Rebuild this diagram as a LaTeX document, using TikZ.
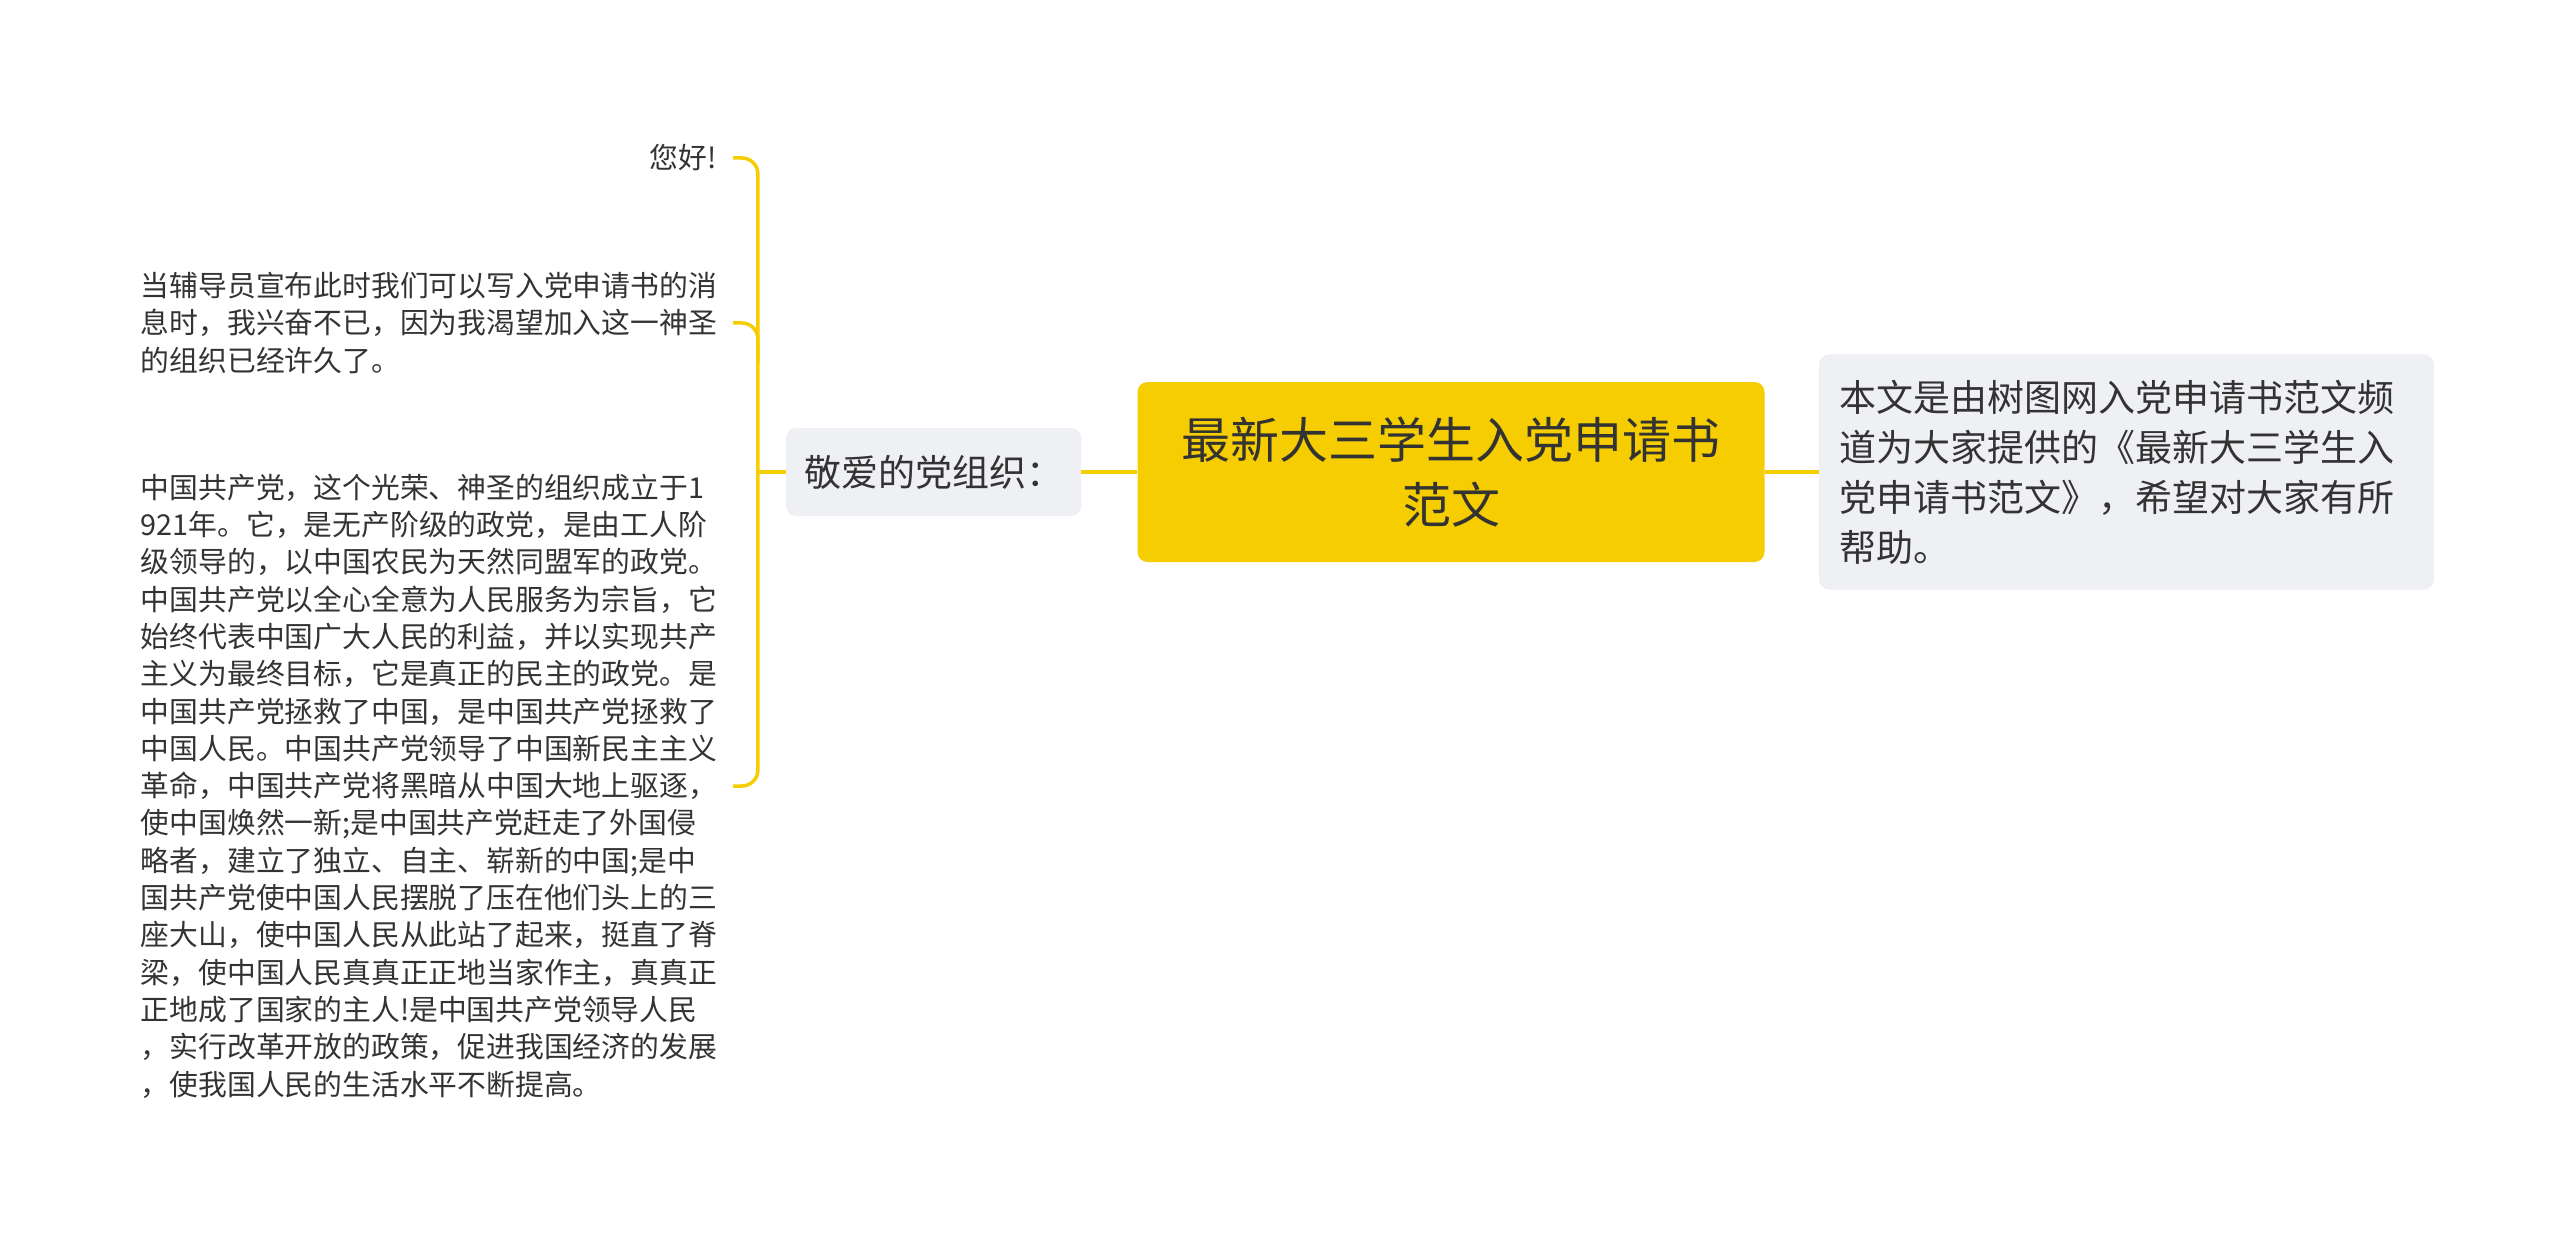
\documentclass[tikz,border=0pt]{standalone}
\usepackage{fontspec}
\setmainfont{Noto Sans CJK SC}
\usepackage{xcolor}
\usepackage{tikz}
\usetikzlibrary{positioning}
\definecolor{rootyellow}{HTML}{F5CD00}
\definecolor{boxgray}{HTML}{EEF0F3}
\definecolor{inkgray}{HTML}{333333}
\tikzset
{
  rootbox/.style={fill=rootyellow,rounded corners=10pt,minimum width=627pt,minimum height=180pt,align=center,text=inkgray,font=\fontsize{49}{65}\selectfont},
  subbox/.style={fill=boxgray,rounded corners=10pt,align=left,text=inkgray,font=\fontsize{37}{50}\selectfont},
  leaf/.style={align=left,inner xsep=16pt,inner ysep=0pt,text=inkgray,font=\fontsize{28.8}{37.3}\selectfont},
  link/.style={draw=rootyellow,line width=3.5pt,rounded corners=16pt}
}
\begin{document}
\begin{tikzpicture}[x=1pt,y=-1pt]

    % Fix the page size
    \useasboundingbox (0,0) rectangle (2560,1241);

    % Draw the central topic
    \node[rootbox] (root) at (1451,472) {最新大三学生入党申请书\\范文};

    % Draw the two main branches
    \node[subbox,minimum width=295pt,minimum height=88pt,left=56pt of root] (dear) {敬爱的党组织：};
    \node[subbox,text width=573pt,minimum width=615pt,minimum height=235pt,right=54pt of root] (note) {本文是由树图网入党申请书范文频\\道为大家提供的《最新大三学生入\\党申请书范文》，希望对大家有所\\帮助。};

    % Draw the leaves of the left branch
    \coordinate[left=28pt of dear.west] (fork);
    \node[leaf,anchor=east] (hello) at (733,158) {您好!};
    \node[leaf,anchor=east] (news) at (733,323) {当辅导员宣布此时我们可以写入党申请书的消\\息时，我兴奋不已，因为我渴望加入这一神圣\\的组织已经许久了。};
    \node[leaf,anchor=east] (party) at (733,786) {中国共产党，这个光荣、神圣的组织成立于1\\921年。它，是无产阶级的政党，是由工人阶\\级领导的，以中国农民为天然同盟军的政党。\\中国共产党以全心全意为人民服务为宗旨，它\\始终代表中国广大人民的利益，并以实现共产\\主义为最终目标，它是真正的民主的政党。是\\中国共产党拯救了中国，是中国共产党拯救了\\中国人民。中国共产党领导了中国新民主主义\\革命，中国共产党将黑暗从中国大地上驱逐，\\使中国焕然一新;是中国共产党赶走了外国侵\\略者，建立了独立、自主、崭新的中国;是中\\国共产党使中国人民摆脱了压在他们头上的三\\座大山，使中国人民从此站了起来，挺直了脊\\梁，使中国人民真真正正地当家作主，真真正\\正地成了国家的主人!是中国共产党领导人民\\，实行改革开放的政策，促进我国经济的发展\\，使我国人民的生活水平不断提高。};

    % Draw the connectors
    \draw[link] (root) -- (dear);
    \draw[link] (root) -- (note);
    \draw[link] (dear.west) -- (fork);
    \draw[link] (hello.east) -- (fork |- hello.east) -- (fork |- party.east) -- (party.east);
    \draw[link] (news.east) -- (fork |- news.east) -- ++(0,40);

\end{tikzpicture}
\end{document}
